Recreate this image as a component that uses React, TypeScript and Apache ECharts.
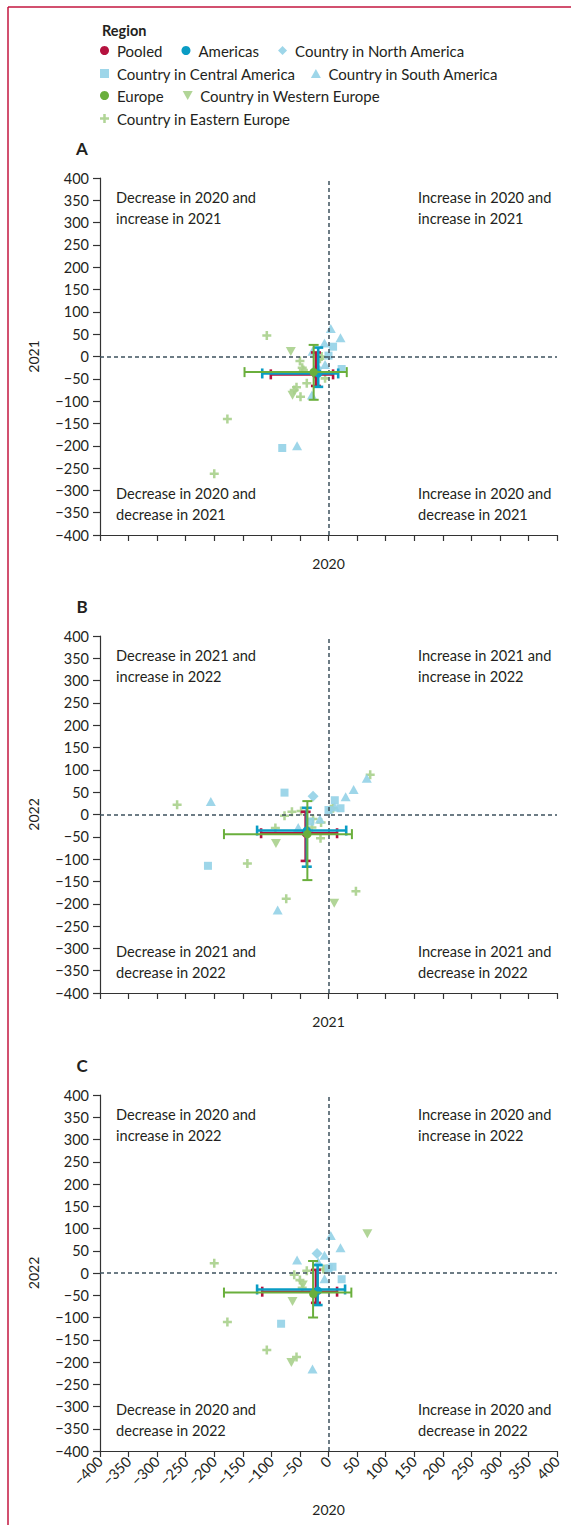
import React, { useEffect, useRef } from "react";
import * as echarts from "echarts";

// ---------- data ----------
// Panel A: x = change in 2020, y = change in 2021
const aNorthAmerica = [[-20, -27]];
const aCentralAmerica = [[-81, -205], [8, 22], [0, 2], [23, -28]];
const aSouthAmerica = [[4, 63], [21, 42], [-7, 30], [-28, 12], [-6, -18], [-29, -86], [-55, -200]];
const aWesternEurope = [[-66, 11], [-63, -87]];
const aEasternEurope = [[-108, 47], [-177, -140], [-200, -263], [-6, -49], [-38, -60], [-50, -10], [-46, -25], [-44, -30], [-56, -69], [-60, -75], [-49, -90], [-12, 0], [-15, -5]];
// summary: x, y, x low, x high, y low, y high
const aPooled = [[-22, -40, -101, 8, -66, 9]];
const aAmericas = [[-18, -38, -116, 17, -68, 20]];
const aEurope = [[-26, -35, -147, 32, -97, 26]];

// Panel B: x = change in 2021, y = change in 2022
const bNorthAmerica = [[-27, 41]];
const bCentralAmerica = [[-77, 49], [-211, -115], [-32, -16], [0, 10], [11, 32], [21, 14]];
const bSouthAmerica = [[-206, 29], [-89, -214], [-53, -29], [-15, -10], [11, 17], [30, 40], [44, 56], [67, 81]];
const bWesternEurope = [[-92, -65], [10, -199]];
const bEasternEurope = [[-265, 22], [-142, -110], [-74, -189], [48, -172], [-14, -53], [-93, -30], [-77, -3], [-64, 6], [-48, 8], [-27, -10], [-13, -18], [-29, -29], [8, 14], [4, 12], [73, 89]];
const bPooled = [[-40, -42, -118, 15, -104, 6]];
const bAmericas = [[-38, -36, -125, 31, -117, 15]];
const bEurope = [[-37, -44, -183, 41, -147, 30]];

// Panel C: x = change in 2020, y = change in 2022
const cNorthAmerica = [[-20, 44]];
const cCentralAmerica = [[-83, -114], [7, 14], [23, -14], [0, 10]];
const cSouthAmerica = [[4, 84], [21, 57], [-55, 29], [-7, 40], [-7, -13], [-28, -216], [-18, 25]];
const cWesternEurope = [[68, 88], [-63, -64], [-65, -201], [-45, -27]];
const cEasternEurope = [[-200, 22], [-177, -110], [-108, -173], [-56, -189], [-60, -4], [-38, 5], [-50, -16], [-46, -33], [-9, 9], [-3, 9], [-6, 8]];
const cPooled = [[-22, -42, -116, 15, -67, 7]];
const cAmericas = [[-19, -37, -125, 29, -72, 18]];
const cEurope = [[-27, -44, -183, 40, -100, 27]];

const panelLetters = ["A", "B", "C"];
const xNames = ["2020", "2021", "2020"];
const yNames = ["2021", "2022", "2022"];
const quadrantTexts = [
  ["Decrease in 2020 and\nincrease in 2021", "Increase in 2020 and\nincrease in 2021", "Decrease in 2020 and\ndecrease in 2021", "Increase in 2020 and\ndecrease in 2021"],
  ["Decrease in 2021 and\nincrease in 2022", "Increase in 2021 and\nincrease in 2022", "Decrease in 2021 and\ndecrease in 2022", "Increase in 2021 and\ndecrease in 2022"],
  ["Decrease in 2020 and\nincrease in 2022", "Increase in 2020 and\nincrease in 2022", "Decrease in 2020 and\ndecrease in 2022", "Increase in 2020 and\ndecrease in 2022"],
];

// ---------- styling ----------
const FONT = "Lato, 'Open Sans', sans-serif";
const TEXT = "#231f20";
const CRIMSON = "#b5123f";
const TEAL = "#0a9cc4";
const GREEN = "#6aaf3c";
const LBLUE = "#93d1e7";
const LGREEN = "#a9d08c";
const FRAME = "#c3163f";

const INV_TRI = "path://M0,0L10,0L5,9Z";
const TRI = "path://M5,0L10,9L0,9Z";
const SQUARE = "path://M0,0H10V10H0Z";
const DIAMOND = "path://M5,0L10,5L5,10L0,5Z";
const PLUS = "path://M3.6,0H6.4V3.6H10V6.4H6.4V10H3.6V6.4H0V3.6H3.6Z";

const GRID_TOPS = [178, 636, 1095];
const GRID_H = [357, 357, 356];

const fmt = (v: number) => (v < 0 ? "\u2212" + Math.abs(v) : String(v));

function errRender(color: string, lw: number) {
  return (params: any, api: any) => {
    const x = api.value(0);
    const y = api.value(1);
    const c = api.coord([x, y]);
    const l = api.coord([api.value(2), y]);
    const r = api.coord([api.value(3), y]);
    const t = api.coord([x, api.value(5)]);
    const b = api.coord([x, api.value(4)]);
    const h = 5;
    const st = { stroke: color, lineWidth: lw };
    return {
      type: "group",
      children: [
        { type: "line", shape: { x1: l[0], y1: c[1], x2: r[0], y2: c[1] }, style: st },
        { type: "line", shape: { x1: c[0], y1: t[1], x2: c[0], y2: b[1] }, style: st },
        { type: "line", shape: { x1: l[0], y1: c[1] - h, x2: l[0], y2: c[1] + h }, style: st },
        { type: "line", shape: { x1: r[0], y1: c[1] - h, x2: r[0], y2: c[1] + h }, style: st },
        { type: "line", shape: { x1: c[0] - h, y1: t[1], x2: c[0] + h, y2: t[1] }, style: st },
        { type: "line", shape: { x1: c[0] - h, y1: b[1], x2: c[0] + h, y2: b[1] }, style: st },
        { type: "circle", shape: { cx: c[0], cy: c[1], r: 4.2 }, style: { fill: color } },
      ],
    };
  };
}

function scatter(name: string, data: number[][], symbol: string, size: number, color: string, gi: number, extra: any = {}) {
  return {
    type: "scatter",
    name,
    xAxisIndex: gi,
    yAxisIndex: gi,
    data,
    symbol,
    symbolSize: size,
    symbolKeepAspect: true,
    itemStyle: { color, opacity: 0.9 },
    z: 2,
    ...extra,
  };
}

function summary(name: string, data: number[][], color: string, lw: number, gi: number, z: number) {
  return {
    type: "custom",
    name,
    xAxisIndex: gi,
    yAxisIndex: gi,
    data,
    encode: { x: 0, y: 1 },
    itemStyle: { color },
    renderItem: errRender(color, lw),
    z,
  };
}

export default function App() {
  const ref = useRef<HTMLDivElement>(null);
  useEffect(() => {
    if (!ref.current) return;
    const chart = echarts.init(ref.current, undefined, { renderer: "svg" });

    const panels = [
      [aNorthAmerica, aCentralAmerica, aSouthAmerica, aWesternEurope, aEasternEurope, aPooled, aAmericas, aEurope],
      [bNorthAmerica, bCentralAmerica, bSouthAmerica, bWesternEurope, bEasternEurope, bPooled, bAmericas, bEurope],
      [cNorthAmerica, cCentralAmerica, cSouthAmerica, cWesternEurope, cEasternEurope, cPooled, cAmericas, cEurope],
    ];

    const grids = GRID_TOPS.map((t, i) => ({ left: 100, width: 457, top: t, height: GRID_H[i] }));

    const xAxes = [0, 1, 2].map((i) => ({
      type: "value",
      gridIndex: i,
      min: -400,
      max: 400,
      interval: 50,
      name: xNames[i],
      nameLocation: "middle",
      nameGap: i === 2 ? 51 : 21,
      nameTextStyle: { fontSize: 14, color: TEXT, fontFamily: FONT },
      axisLine: { show: true, onZero: false, lineStyle: { color: "#333", width: 1.2 } },
      axisTick: { show: true, length: 6, lineStyle: { color: "#333", width: 1.2 } },
      axisLabel: { show: i === 2, rotate: 45, fontSize: 14.5, color: TEXT, fontFamily: FONT, formatter: fmt, margin: 8 },
      splitLine: { show: false },
    }));

    const yAxes = [0, 1, 2].map((i) => ({
      type: "value",
      gridIndex: i,
      min: -400,
      max: 400,
      interval: 50,
      name: yNames[i],
      nameLocation: "middle",
      nameGap: 60,
      nameTextStyle: { fontSize: 14, color: TEXT, fontFamily: FONT },
      axisLine: { show: true, onZero: false, lineStyle: { color: "#333", width: 1.2 } },
      axisTick: { show: true, length: 7, lineStyle: { color: "#333", width: 1.2 } },
      axisLabel: { show: true, fontSize: 14.5, color: TEXT, fontFamily: FONT, formatter: fmt, margin: 11 },
      splitLine: { show: false },
    }));

    const series: any[] = [];
    panels.forEach((p, gi) => {
      series.push(
        scatter("Country in Eastern Europe", p[4], PLUS, 9, LGREEN, gi, {
          markLine: {
            silent: true,
            symbol: ["none", "none"],
            label: { show: false },
            lineStyle: { color: "#3e515d", type: [4, 3], width: 1.5 },
            data: [{ xAxis: 0 }, { yAxis: 0 }],
          },
        })
      );
      series.push(scatter("Country in Western Europe", p[3], INV_TRI, 10, LGREEN, gi));
      series.push(scatter("Country in Central America", p[1], SQUARE, 8, LBLUE, gi));
      series.push(scatter("Country in South America", p[2], TRI, 10, LBLUE, gi));
      series.push(scatter("Country in North America", p[0], DIAMOND, 11, LBLUE, gi));
      series.push(summary("Pooled", p[5], CRIMSON, 2.6, gi, 5));
      series.push(summary("Americas", p[6], TEAL, 2.6, gi, 6));
      series.push(summary("Europe", p[7], GREEN, 2, gi, 7));
    });

    const legendBase = {
      left: 100,
      orient: "horizontal",
      itemWidth: 15,
      itemHeight: 9,
      itemGap: 19,
      padding: 0,
      selectedMode: false,
      textStyle: { fontSize: 15, color: TEXT, fontFamily: FONT },
    };
    const legends = [
      { ...legendBase, top: 43, data: [{ name: "Pooled", icon: "circle" }, { name: "Americas", icon: "circle" }, { name: "Country in North America", icon: DIAMOND }] },
      { ...legendBase, top: 66, itemGap: 15, data: [{ name: "Country in Central America", icon: SQUARE }, { name: "Country in South America", icon: TRI }] },
      { ...legendBase, top: 88, data: [{ name: "Europe", icon: "circle" }, { name: "Country in Western Europe", icon: INV_TRI }] },
      { ...legendBase, top: 111, data: [{ name: "Country in Eastern Europe", icon: PLUS }] },
    ];

    const graphics: any[] = [
      { type: "line", shape: { x1: 8, y1: 7, x2: 8, y2: 1525 }, style: { stroke: FRAME, lineWidth: 1.5 } },
      { type: "line", shape: { x1: 8, y1: 7, x2: 571, y2: 7 }, style: { stroke: FRAME, lineWidth: 1.5 } },
      { type: "text", x: 102, y: 30, style: { text: "Region", font: `bold 14.5px ${FONT}`, fill: TEXT, verticalAlign: "middle", align: "left" } },
    ];
    GRID_TOPS.forEach((t, i) => {
      const bottom = t + GRID_H[i];
      graphics.push({ type: "text", x: 82, y: t - 30, style: { text: panelLetters[i], font: `bold 17px ${FONT}`, fill: TEXT, verticalAlign: "middle", align: "center" } });
      const q = quadrantTexts[i];
      const pos = [
        [116, t + 9],
        [418, t + 9],
        [116, bottom - 52],
        [418, bottom - 52],
      ];
      q.forEach((txt, k) => {
        graphics.push({
          type: "text",
          x: pos[k][0],
          y: pos[k][1],
          style: { text: txt, font: `14.6px ${FONT}`, fill: TEXT, lineHeight: 21, verticalAlign: "top", align: "left" },
        });
      });
    });

    chart.setOption({
      animation: false,
      backgroundColor: "#ffffff",
      textStyle: { fontFamily: FONT },
      grid: grids,
      xAxis: xAxes,
      yAxis: yAxes,
      legend: legends,
      series,
      graphic: graphics,
    });
    return () => chart.dispose();
  }, []);
  return <div ref={ref} style={{ position: "absolute", left: 0, top: 0, width: 571, height: 1525 }} />;
}
